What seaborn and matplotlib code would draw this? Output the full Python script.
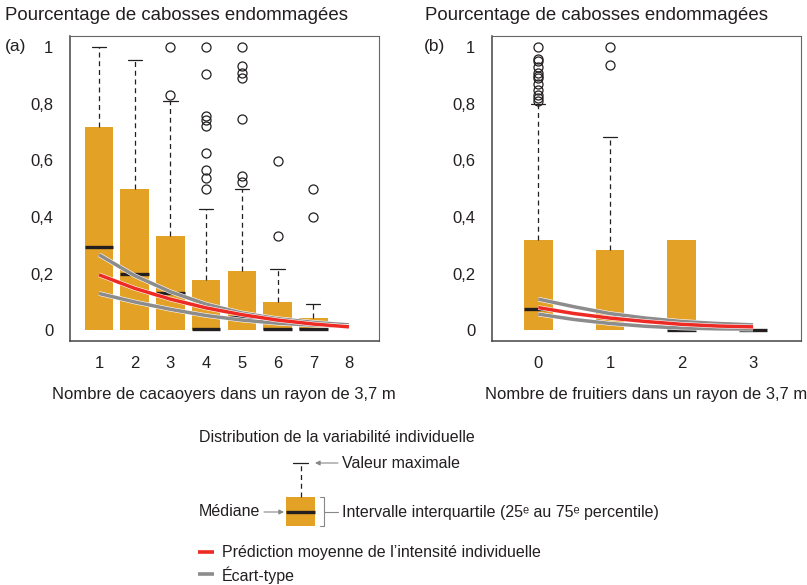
import matplotlib
matplotlib.use('Agg')
import matplotlib.pyplot as plt
import matplotlib.patheffects as pe
import seaborn as sns

# Boxplot summaries (q1 = lower whisker = 0 everywhere)
cacao_n = [1, 2, 3, 4, 5, 6, 7]
cacao_med = [0.293, 0.199, 0.130, 0.006, 0.047, 0.006, 0.004]
cacao_q3 = [0.717, 0.498, 0.334, 0.178, 0.210, 0.100, 0.044]
cacao_max = [1.0, 0.955, 0.811, 0.429, 0.501, 0.215, 0.093]
cacao_out = [
    [],
    [],
    [0.833, 1.0],
    [1.0, 0.904, 0.758, 0.742, 0.722, 0.626, 0.567, 0.539, 0.501],
    [1.0, 0.934, 0.908, 0.892, 0.747, 0.546, 0.525],
    [0.599, 0.333],
    [0.499, 0.401],
]

fruit_n = [0, 1, 2, 3]
fruit_med = [0.074, 0.048, 0.0, 0.0]
fruit_q3 = [0.320, 0.285, 0.320, 0.0]
fruit_max = [0.799, 0.684, 0.320, 0.0]
fruit_out = [
    [1.0, 0.96, 0.95, 0.93, 0.91, 0.90, 0.89, 0.87, 0.85, 0.83, 0.82, 0.81],
    [1.0, 0.939],
    [],
    [],
]

# Model prediction and +/- sd curves
cacao_x = [1, 2, 3, 4, 5, 6, 7, 8]
cacao_pred = [0.196, 0.148, 0.110, 0.079, 0.055, 0.036, 0.022, 0.012]
cacao_hi = [0.267, 0.193, 0.136, 0.092, 0.061, 0.041, 0.028, 0.019]
cacao_lo = [0.130, 0.100, 0.074, 0.052, 0.036, 0.025, 0.018, 0.013]

fruit_x = [0, 0.5, 1, 1.5, 2, 2.5, 3]
fruit_pred = [0.080, 0.059, 0.043, 0.031, 0.021, 0.015, 0.012]
fruit_hi = [0.110, 0.083, 0.059, 0.043, 0.031, 0.024, 0.019]
fruit_lo = [0.057, 0.038, 0.024, 0.014, 0.008, 0.005, 0.004]

ORANGE = '#E3A126'
RED = '#EE2A24'
GREY = '#8C8C8C'
DARK = '#231F20'
TXT = '#231F20'

sns.set_style('white')
plt.rcParams['font.family'] = ['Liberation Sans', 'DejaVu Sans']

W, H = 807, 585
fig = plt.figure(figsize=(W / 100, H / 100), dpi=100)


def draw_panel(ax, pos, med, q3, wmax, outs, width):
    stats = []
    for m, q, w, o in zip(med, q3, wmax, outs):
        stats.append(dict(med=m, q1=0.0, q3=q, whislo=0.0, whishi=w, fliers=o))
    parts = ax.bxp(stats, positions=pos, widths=width, patch_artist=True,
                   capwidths=width / 2, manage_ticks=False,
                   boxprops=dict(facecolor=ORANGE, edgecolor='none'),
                   medianprops=dict(color=DARK, lw=2.4, solid_capstyle='butt'),
                   whiskerprops=dict(color=DARK, lw=0.9, ls=(0, (4, 3))),
                   capprops=dict(color=DARK, lw=0.9),
                   flierprops=dict(marker='o', markersize=6.5, markerfacecolor='none',
                                   markeredgecolor=DARK, markeredgewidth=0.9))
    # hide lower whiskers/caps and empty upper ones
    for i, s in enumerate(stats):
        parts['whiskers'][2 * i].set_visible(False)
        parts['caps'][2 * i].set_visible(False)
        if s['whishi'] <= s['q3']:
            parts['whiskers'][2 * i + 1].set_visible(False)
            parts['caps'][2 * i + 1].set_visible(False)


def draw_curves(ax, x, pred, hi, lo):
    halo = [pe.Stroke(linewidth=3.3, foreground='white'), pe.Normal()]
    for y, c in [(hi, GREY), (lo, GREY), (pred, RED)]:
        sns.lineplot(x=x, y=y, ax=ax, color=c, linewidth=2.5, path_effects=halo,
                     solid_capstyle='butt', zorder=5)


def style_axes(ax, xticks):
    ax.set_ylim(-0.038, 1.04)
    ax.set_yticks([0, 0.2, 0.4, 0.6, 0.8, 1])
    ax.set_yticklabels(['0', '0,2', '0,4', '0,6', '0,8', '1'])
    ax.set_xticks(xticks)
    ax.set_xticklabels([str(t) for t in xticks])
    ax.tick_params(direction='out', length=7, width=1, color='#444444',
                   labelsize=12, labelcolor=TXT, pad=4)
    ax.tick_params(axis='y', pad=5)
    for side in ['left', 'bottom']:
        ax.spines[side].set_color('#444444')
        ax.spines[side].set_linewidth(1.1)
    for side in ['top', 'right']:
        ax.spines[side].set_color('#666666')
        ax.spines[side].set_linewidth(0.8)
    ax.set_xlabel('')
    ax.set_ylabel('')


ax1 = fig.add_axes([70 / W, 1 - 341 / H, 309 / W, 305 / H])
draw_panel(ax1, cacao_n, cacao_med, cacao_q3, cacao_max, cacao_out, 0.8)
draw_curves(ax1, cacao_x, cacao_pred, cacao_hi, cacao_lo)
ax1.set_xlim(0.19, 8.84)
style_axes(ax1, cacao_x)

ax2 = fig.add_axes([492 / W, 1 - 341 / H, 309 / W, 305 / H])
draw_panel(ax2, fruit_n, fruit_med, fruit_q3, fruit_max, fruit_out, 0.4)
draw_curves(ax2, fruit_x, fruit_pred, fruit_hi, fruit_lo)
ax2.set_xlim(-0.647, 3.67)
style_axes(ax2, fruit_n)

# Texts placed in pixel coordinates through an overlay axes
lg = fig.add_axes([0, 0, 1, 1])
lg.set_xlim(0, W)
lg.set_ylim(H, 0)
lg.axis('off')
lg.patch.set_visible(False)

title = 'Pourcentage de cabosses endommagées'
lg.text(5, 15, title, fontsize=13.4, color=TXT, va='center', ha='left')
lg.text(425, 15, title, fontsize=13.4, color=TXT, va='center', ha='left')
lg.text(5, 47, '(a)', fontsize=12.5, color=TXT, va='center', ha='left')
lg.text(424, 47, '(b)', fontsize=12.5, color=TXT, va='center', ha='left')
lg.text(224, 395, 'Nombre de cacaoyers dans un rayon de 3,7 m', fontsize=12,
        color=TXT, va='center', ha='center')
lg.text(646, 395, 'Nombre de fruitiers dans un rayon de 3,7 m', fontsize=12,
        color=TXT, va='center', ha='center')

# Legend key
fs = 11.5
lg.text(199, 437, 'Distribution de la variabilité individuelle', fontsize=fs,
        color=TXT, va='center')
lg.add_patch(plt.Rectangle((286, 497), 29, 29, facecolor=ORANGE, edgecolor='none'))
lg.plot([286, 315], [511.5, 511.5], color=DARK, lw=2.4, solid_capstyle='butt')
lg.plot([300.5, 300.5], [497, 463], color=DARK, lw=0.9, ls=(0, (4, 3)))
lg.plot([293, 308], [463, 463], color=DARK, lw=0.9)
arrow = dict(arrowstyle='-|>', color='#888888', lw=0.8, mutation_scale=7,
             shrinkA=0, shrinkB=0)
lg.annotate('', xy=(315, 463), xytext=(338, 463), arrowprops=arrow)
lg.text(342, 464, 'Valeur maximale', fontsize=fs, color=TXT, va='center')
lg.text(199, 512, 'Médiane', fontsize=fs, color=TXT, va='center')
lg.annotate('', xy=(284, 512), xytext=(264, 512), arrowprops=arrow)
lg.plot([320, 323.5, 323.5, 320], [497, 497, 526, 526], color='#888888', lw=0.8)
lg.plot([323.5, 338], [511.5, 511.5], color='#888888', lw=0.8)
lg.text(342, 512, 'Intervalle interquartile (25ᵉ au 75ᵉ percentile)', fontsize=fs,
        color=TXT, va='center')
lg.plot([198, 214], [552, 552], color=RED, lw=2.6, solid_capstyle='butt')
lg.text(222, 552, 'Prédiction moyenne de l\u2019intensité individuelle', fontsize=fs,
        color=TXT, va='center')
lg.plot([198, 214], [574, 574], color=GREY, lw=2.6, solid_capstyle='butt')
lg.text(222, 575, 'Écart-type', fontsize=fs, color=TXT, va='center')

fig.savefig('out.png', dpi=100)
